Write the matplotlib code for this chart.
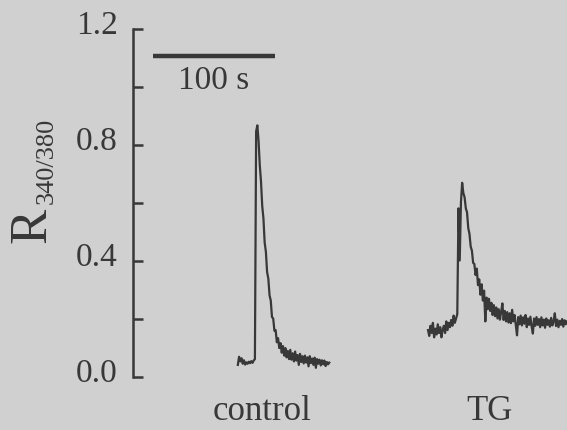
import numpy as np
import matplotlib
matplotlib.use("Agg")
import matplotlib.pyplot as plt
import matplotlib.transforms as mtransforms

# Fura-2 ratio traces (R340/380), sampled once per second
control_start = 86
control_ratio = [
    0.040, 0.068, 0.052, 0.063, 0.044, 0.056, 0.041, 0.049, 0.044, 0.051,
    0.046, 0.053, 0.047, 0.055, 0.060, 0.845, 0.866, 0.812, 0.728, 0.672,
    0.588, 0.545, 0.462, 0.430, 0.360, 0.338, 0.280, 0.262, 0.205, 0.200,
    0.158, 0.160, 0.118, 0.132, 0.098, 0.115, 0.082, 0.105, 0.072, 0.098,
    0.066, 0.088, 0.060, 0.092, 0.058, 0.080, 0.052, 0.086, 0.055, 0.074,
    0.040, 0.078, 0.050, 0.070, 0.045, 0.072, 0.048, 0.066, 0.035, 0.070,
    0.046, 0.062, 0.040, 0.065, 0.030, 0.060, 0.044, 0.058, 0.038, 0.056,
    0.042, 0.055, 0.036, 0.050, 0.042, 0.048,
]

tg_start = 242
tg_ratio = [
    0.160, 0.140, 0.175, 0.150, 0.185, 0.135, 0.165, 0.145, 0.180, 0.150,
    0.170, 0.135, 0.160, 0.175, 0.150, 0.190, 0.160, 0.185, 0.170, 0.195,
    0.175, 0.210, 0.185, 0.200, 0.215, 0.580, 0.400, 0.600, 0.668, 0.632,
    0.618, 0.580, 0.566, 0.512, 0.492, 0.448, 0.434, 0.392, 0.388, 0.350,
    0.372, 0.315, 0.335, 0.282, 0.318, 0.262, 0.296, 0.190, 0.272, 0.232,
    0.268, 0.226, 0.254, 0.212, 0.246, 0.208, 0.238, 0.200, 0.232, 0.196,
    0.224, 0.252, 0.195, 0.226, 0.190, 0.222, 0.186, 0.218, 0.184, 0.230,
    0.190, 0.212, 0.178, 0.142, 0.205, 0.180, 0.210, 0.176, 0.204, 0.182,
    0.212, 0.170, 0.200, 0.178, 0.206, 0.172, 0.148, 0.200, 0.175, 0.205,
    0.178, 0.198, 0.170, 0.204, 0.176, 0.196, 0.168, 0.200, 0.178, 0.194,
    0.172, 0.202, 0.176, 0.190, 0.218, 0.174, 0.196, 0.170, 0.192, 0.178,
    0.198, 0.172, 0.194, 0.180, 0.190,
]

condition_labels = ["control", "TG"]
major_ticks = [0.0, 0.4, 0.8, 1.2]
minor_ticks = [0.2, 0.6, 1.0]
scalebar_seconds = 100

bg = "#d0d0d0"
ink = "#383838"
serif = ["Liberation Serif", "DejaVu Serif"]

fig = plt.figure(figsize=(5.67, 4.30), dpi=100, facecolor=bg)
ax = fig.add_axes([133 / 567, 53.5 / 430, 1 - 133 / 567, 348 / 430])
ax.set_facecolor(bg)
ax.set_xlim(0, 356)
ax.set_ylim(0, 1.2)

t_control = control_start + np.arange(len(control_ratio))
t_tg = tg_start + np.arange(len(tg_ratio))
ax.plot(t_control, control_ratio, color=ink, lw=1.6, clip_on=False)
ax.plot(t_tg, tg_ratio, color=ink, lw=1.6, clip_on=False)

# axis styling: only the left spine, ticks pointing inward
for side in ("top", "right", "bottom"):
    ax.spines[side].set_visible(False)
ax.spines["left"].set_color(ink)
ax.spines["left"].set_linewidth(1.8)
ax.set_xticks([])
ax.set_yticks(major_ticks)
ax.set_yticks(minor_ticks, minor=True)
ax.set_yticklabels([f"{v:.1f}" for v in major_ticks])
ax.tick_params(axis="y", which="both", direction="in", length=7, width=1.8,
               color=ink, labelcolor=ink, pad=11)
ax.tick_params(axis="y", which="major", labelsize=24)
shift = mtransforms.ScaledTranslation(0, 6 / 100, fig.dpi_scale_trans)
for lab in ax.get_yticklabels():
    lab.set_family(serif)
    lab.set_transform(lab.get_transform() + shift)

# time scale bar
bar_x0 = 16.4
ax.plot([bar_x0, bar_x0 + scalebar_seconds], [1.105, 1.105], color=ink,
        lw=3.2, solid_capstyle="butt", clip_on=False)
ax.text(bar_x0 + scalebar_seconds / 2, 0.99, f"{scalebar_seconds} s",
        ha="center", va="baseline", fontsize=24, family=serif, color=ink)

# condition labels under each trace
ax.text(105.7, -0.15, condition_labels[0], ha="center", va="baseline",
        fontsize=25, family=serif, color=ink, clip_on=False)
ax.text(292.6, -0.15, condition_labels[1], ha="center", va="baseline",
        fontsize=25, family=serif, color=ink, clip_on=False)

# y-axis label R with 340/380 subscript
fig.text(45 / 567, 1 - 225 / 430, "R", rotation=90, rotation_mode="anchor",
         ha="center", va="baseline", fontsize=38, family=serif, color=ink)
fig.text(53 / 567, 1 - 161 / 430, "340/380", rotation=90, rotation_mode="anchor",
         ha="center", va="baseline", fontsize=19, family=serif, color=ink)

fig.savefig("out.png", dpi=100, facecolor=bg)
